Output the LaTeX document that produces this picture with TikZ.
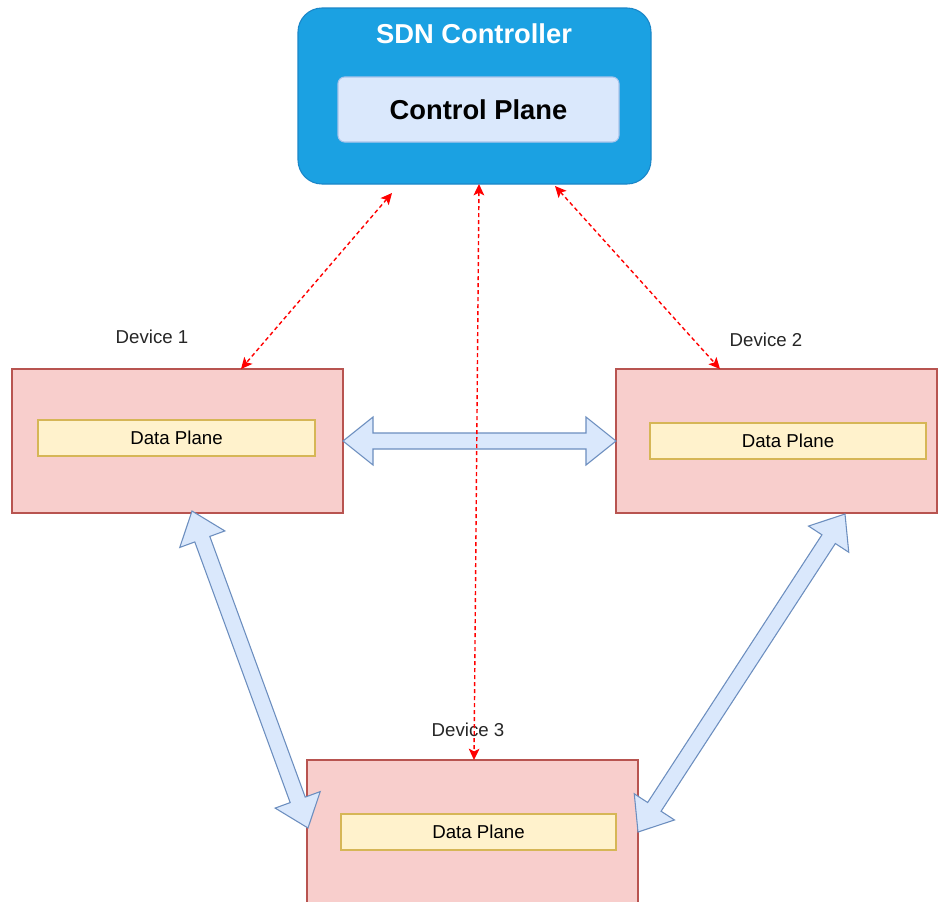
\documentclass[tikz,border=0pt]{standalone}
\usepackage{fontspec}
\setmainfont{Liberation Sans}
\usetikzlibrary{calc,arrows.meta}

\definecolor{ctrlfill}{HTML}{1BA1E2}
\definecolor{ctrlline}{HTML}{1A86C8}
\definecolor{planefill}{HTML}{DAE8FC}
\definecolor{planeline}{HTML}{A9C4EB}
\definecolor{devfill}{HTML}{F8CECC}
\definecolor{devline}{HTML}{B85450}
\definecolor{datafill}{HTML}{FFF2CC}
\definecolor{dataline}{HTML}{D6B656}
\definecolor{arrowfill}{HTML}{DAE8FC}
\definecolor{arrowline}{HTML}{6C8EBF}
\definecolor{linkred}{HTML}{FF0000}

\tikzset{
  box/.style={rectangle, inner sep=0pt, outer sep=0pt, line width=0.8pt},
  controller/.style={box, fill=ctrlfill, draw=ctrlline, rounded corners=18pt,
    minimum width=264.75pt, minimum height=132pt},
  ctrlplane/.style={box, fill=planefill, draw=planeline, rounded corners=5pt,
    minimum width=210.75pt, minimum height=48.75pt,
    font=\fontsize{20.5}{24}\selectfont\bfseries},
  device/.style={box, fill=devfill, draw=devline,
    minimum width=248.25pt, minimum height=108pt},
  dataplane/.style={box, fill=datafill, draw=dataline,
    minimum height=27pt, font=\fontsize{14}{17}\selectfont},
  devlabel/.style={font=\fontsize{14}{17}\selectfont, text=black!85, inner sep=0pt},
  ctrltitle/.style={font=\fontsize{20.5}{24}\selectfont\bfseries, text=white, inner sep=0pt},
  redtip/.style={},
  ctrllink/.style={draw=linkred, line width=1.05pt, dash pattern=on 3pt off 2.25pt,
    {Stealth[length=8.5pt,width=8pt,inset=2pt]}-{Stealth[length=8.5pt,width=8pt,inset=2pt]}},
  blockarrow/.style={fill=arrowfill, draw=arrowline, line width=0.8pt, line join=miter}
}

% Double-headed block arrow between two points (head length 22.5pt,
% head half-width 18pt, shaft half-width 6pt)
\newcommand\fatarrow[2]{%
  \draw[blockarrow] let \p1=($(#2)-(#1)$), \n1={atan2(\y1,\x1)} in
    (#1)
    -- ($(#1)+(\n1:22.5pt)+(\n1+90:18pt)$)
    -- ($(#1)+(\n1:22.5pt)+(\n1+90:6pt)$)
    -- ($(#2)+(\n1:-22.5pt)+(\n1+90:6pt)$)
    -- ($(#2)+(\n1:-22.5pt)+(\n1+90:18pt)$)
    -- (#2)
    -- ($(#2)+(\n1:-22.5pt)+(\n1-90:18pt)$)
    -- ($(#2)+(\n1:-22.5pt)+(\n1-90:6pt)$)
    -- ($(#1)+(\n1:22.5pt)+(\n1-90:6pt)$)
    -- ($(#1)+(\n1:22.5pt)+(\n1-90:18pt)$)
    -- cycle;}

\begin{document}
\begin{tikzpicture}[x=0.75pt,y=-0.75pt]
  \clip (0,0) rectangle (938,901);
  \fill[white] (0,0) rectangle (938,901);

  % SDN controller
  \node[controller] (ctrl) at (474.5,96) {};
  \node[ctrltitle] (ctrltitle) at (474,34) {SDN Controller};
  \node[ctrlplane] (cp) at (478.5,109.5) {Control Plane};

  % Devices
  \node[device] (d1) at (177.5,441) {};
  \node[dataplane, minimum width=207.75pt] (dp1) at (176.5,438) {Data Plane};
  \node[devlabel] (l1) at (152,337) {Device 1};

  \node[device, minimum width=240.75pt] (d2) at (776.5,441) {};
  \node[dataplane, minimum width=207pt] (dp2) at (788,441) {Data Plane};
  \node[devlabel] (l2) at (766,340) {Device 2};

  \node[device, minimum height=108.75pt] (d3) at (472.5,832.5) {};
  \node[dataplane, minimum width=206.25pt] (dp3) at (478.5,832) {Data Plane};
  \node[devlabel] (l3) at (468,730) {Device 3};

  % Data-plane links between devices
  \coordinate (d1b) at (192,511);
  \coordinate (d3l) at (308,828);
  \coordinate (d2b) at (845,514);
  \coordinate (d3r) at (638,832);
  \fatarrow{d1.east}{d2.west}
  \fatarrow{d1b}{d3l}
  \fatarrow{d2b}{d3r}

  % Control links from the controller
  \coordinate (c1) at (392,193);
  \coordinate (c2) at (479,184);
  \coordinate (c3) at (555,186);
  \coordinate (t1) at (241,369);
  \coordinate (t2) at (474,760);
  \coordinate (t3) at (720,369);
  \draw[ctrllink] (c1) -- (t1);
  \draw[ctrllink] (c2) -- (t2);
  \draw[ctrllink] (c3) -- (t3);
\end{tikzpicture}
\end{document}
